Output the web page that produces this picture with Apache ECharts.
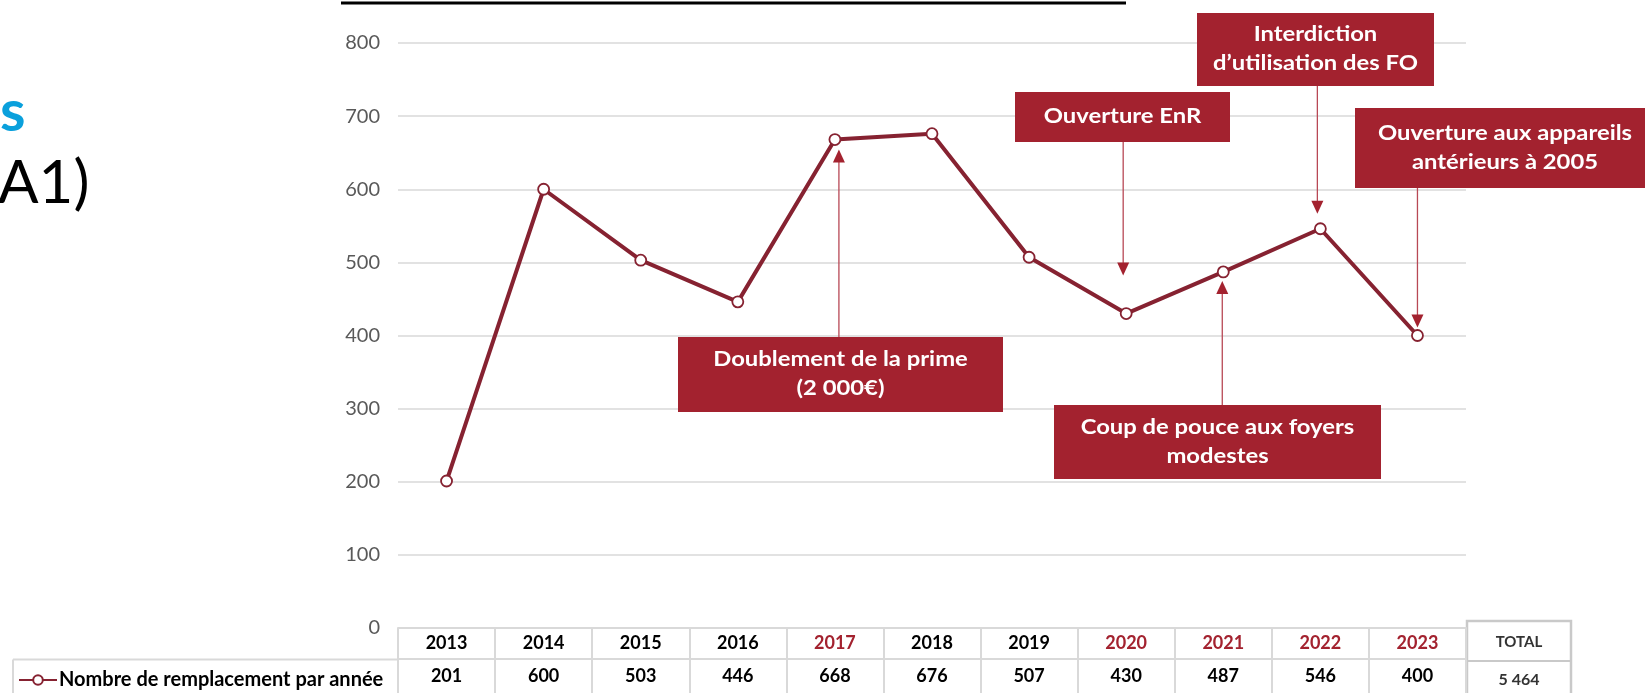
<!DOCTYPE html>
<html lang="fr">
<head>
    <meta charset="UTF-8">
    <title>Nombre de remplacement par année</title>
    <style>
        html, body { margin: 0; padding: 0; background: #fff; }
        #main { width: 1645px; height: 693px; }
    </style>
    <script src="https://cdn.jsdelivr.net/npm/echarts@6/dist/echarts.min.js"></script>
</head>
<body>
<div id="main"></div>
<script type="text/javascript">
    // données
    var years = ['2013', '2014', '2015', '2016', '2017', '2018', '2019', '2020', '2021', '2022', '2023'];
    var values = [201, 600, 503, 446, 668, 676, 507, 430, 487, 546, 400];
    var seriesName = 'Nombre de remplacement par année';
    var totalLabel = 'TOTAL';
    var totalValue = '5 464';
    var yMin = 0, yMax = 800, yStep = 100;

    // évènements annotés (année -> texte)
    var eventYears = ['2017', '2020', '2021', '2022', '2023'];
    var eventTexts = [
        'Doublement de la prime\n(2 000€)',
        'Ouverture EnR',
        'Coup de pouce aux foyers\nmodestes',
        'Interdiction\nd\u2019utilisation des FO',
        'Ouverture aux appareils\nantérieurs à 2005'
    ];

    var FONT = 'Lato, "Noto Sans", sans-serif';
    var LINE = '#862231';
    var RED = '#A3222F';
    var GRID = '#D9D9D9';

    // placement des encadrés (mise en page uniquement)
    var eventLayout = [
        {box: [678, 337, 325, 75], dir: 'up', gap: 10, dx: 4},
        {box: [1015, 92, 215, 50], dir: 'down', gap: 38, dx: -3},
        {box: [1054, 405, 327, 74], dir: 'up', gap: 9, dx: -1},
        {box: [1197, 13, 237, 73], dir: 'down', gap: 15, dx: -3},
        {box: [1355, 108, 300, 80], dir: 'down', gap: 8, dx: 0}
    ];

    var myChart = echarts.init(document.getElementById('main'));

    var option = {
        animation: false,
        textStyle: {fontFamily: FONT},
        grid: {left: 398, right: 179, top: 43, bottom: 65},
        legend: {
            left: 13, top: 665,
            itemWidth: 38, itemHeight: 12, itemGap: 4,
            textStyle: {fontFamily: FONT, fontWeight: 'bold', fontSize: 20, color: '#000', padding: [0, 0, 0, -3]},
            data: [seriesName]
        },
        xAxis: [{
            type: 'category',
            data: years,
            position: 'bottom',
            axisLine: {show: true, lineStyle: {color: GRID, width: 2}},
            axisTick: {show: true, length: 31, lineStyle: {color: GRID, width: 2}},
            axisLabel: {
                margin: 15, verticalAlign: 'middle',
                formatter: function (v) {
                    return eventYears.indexOf(v) >= 0 ? '{r|' + v + '}' : '{b|' + v + '}';
                },
                rich: {
                    b: {fontFamily: FONT, fontWeight: 'bold', fontSize: 18, color: '#000'},
                    r: {fontFamily: FONT, fontWeight: 'bold', fontSize: 18, color: RED}
                }
            },
            splitLine: {show: false}
        }, {
            type: 'category',
            data: years,
            position: 'bottom',
            offset: 31,
            axisLine: {show: true, lineStyle: {color: GRID, width: 2}},
            axisTick: {show: true, length: 40, lineStyle: {color: GRID, width: 2}},
            axisLabel: {
                margin: 17, verticalAlign: 'middle',
                fontFamily: FONT, fontWeight: 'bold', fontSize: 18, color: '#000',
                formatter: function (v, i) { return String(values[i]); }
            },
            splitLine: {show: false}
        }],
        yAxis: {
            type: 'value',
            min: yMin, max: yMax, interval: yStep,
            axisLine: {show: false},
            axisTick: {show: false},
            axisLabel: {margin: 18, fontFamily: FONT, fontSize: 20, color: '#595959'},
            splitLine: {lineStyle: {color: GRID, width: 1.5}}
        },
        series: [{
            name: seriesName,
            type: 'line',
            data: values,
            symbol: 'circle',
            symbolSize: 11,
            lineStyle: {color: LINE, width: 4},
            itemStyle: {color: '#fff', borderColor: LINE, borderWidth: 1.8},
            z: 5
        }]
    };
    myChart.setOption(option);

    // éléments d'habillage : tableau, encadrés et flèches
    var g = [];
    var font = function (w, s) { return w + ' ' + s + 'px ' + FONT; };

    // restes du titre de la diapositive
    g.push({type: 'line', shape: {x1: 341, y1: 3, x2: 1126, y2: 3}, style: {stroke: '#000', lineWidth: 3}});
    g.push({type: 'text', style: {text: 's', x: 0, y: 112, verticalAlign: 'middle', fill: '#0AA0DC', font: font('bold', 58)}});
    g.push({type: 'text', style: {text: 'A1)', x: -2, y: 184, verticalAlign: 'middle', fill: '#000', font: font('normal', 60)}});

    // cellule de légende du tableau
    g.push({type: 'line', shape: {x1: 13, y1: 659.5, x2: 398, y2: 659.5}, style: {stroke: GRID, lineWidth: 2}});
    g.push({type: 'line', shape: {x1: 13, y1: 659.5, x2: 13, y2: 693}, style: {stroke: GRID, lineWidth: 2}});

    // case TOTAL
    g.push({type: 'rect', shape: {x: 1467, y: 621, width: 104, height: 80}, style: {fill: '#fff', stroke: '#C9C9C9', lineWidth: 2.5}});
    g.push({type: 'line', shape: {x1: 1467, y1: 661, x2: 1571, y2: 661}, style: {stroke: '#C9C9C9', lineWidth: 2}});
    g.push({type: 'text', style: {text: totalLabel, x: 1519, y: 642, align: 'center', verticalAlign: 'middle', fill: '#333', font: font('bold', 15)}});
    g.push({type: 'text', style: {text: totalValue, x: 1519, y: 680, align: 'center', verticalAlign: 'middle', fill: '#333', font: font('bold', 16)}});

    eventYears.forEach(function (yr, k) {
        var i = years.indexOf(yr);
        var p = myChart.convertToPixel({seriesIndex: 0}, [i, values[i]]);
        var L = eventLayout[k];
        var b = L.box;
        var ax = p[0] + L.dx;
        var tip, from, head;
        if (L.dir === 'up') {
            tip = p[1] + L.gap;
            from = b[1];
            head = [[ax, tip], [ax - 6, tip + 13], [ax + 6, tip + 13]];
            g.push({type: 'line', shape: {x1: ax, y1: from, x2: ax, y2: tip + 10}, style: {stroke: '#B84855', lineWidth: 1.3}});
        } else {
            tip = p[1] - L.gap;
            from = b[1] + b[3];
            head = [[ax, tip], [ax - 6, tip - 13], [ax + 6, tip - 13]];
            g.push({type: 'line', shape: {x1: ax, y1: from, x2: ax, y2: tip - 10}, style: {stroke: '#B84855', lineWidth: 1.3}});
        }
        g.push({type: 'polygon', shape: {points: head}, style: {fill: RED}});
        g.push({type: 'rect', shape: {x: b[0], y: b[1], width: b[2], height: b[3]}, style: {fill: RED}, z: 10});
        // le texte de la diapositive est étiré horizontalement
        g.push({type: 'text', z: 11, x: b[0] + b[2] / 2, y: b[1] + b[3] / 2, scaleX: 1.19, style: {
            text: eventTexts[k], x: 0, y: 0,
            align: 'center', verticalAlign: 'middle', lineHeight: 29,
            fill: '#fff', font: font('bold', 20)
        }});
    });

    myChart.setOption({graphic: g});
</script>
</body>
</html>
